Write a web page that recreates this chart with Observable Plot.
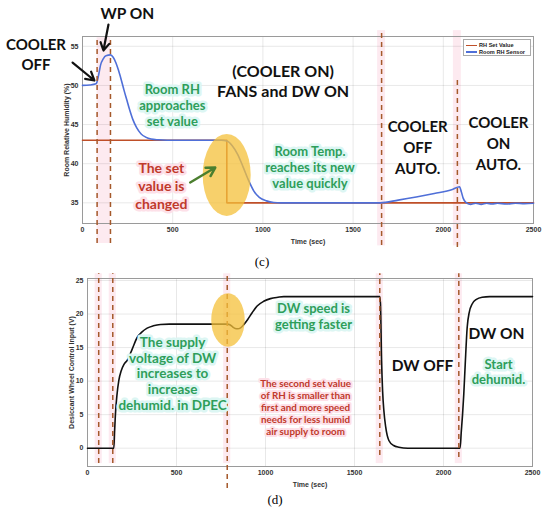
<!DOCTYPE html>
<html><head><meta charset="utf-8">
<script src="https://cdn.jsdelivr.net/npm/d3@7"></script>
<script src="https://cdn.jsdelivr.net/npm/@observablehq/plot@0.6"></script>
<style>
body{margin:0;background:#fff;}
#wrap{position:relative;width:550px;height:513px;overflow:hidden;font-family:"Liberation Sans",Arial,sans-serif;}
#c,#d{position:absolute;left:0;}
#c{top:0}
#d{top:270px}
.cap{position:absolute;font-family:"Liberation Serif","Times New Roman",serif;font-size:13px;transform:translate(-50%,-50%);}
#legend{position:absolute;left:463px;top:39px;width:68px;height:17px;border:1px solid #aaa;background:#fff;font-family:"Liberation Sans",Arial,sans-serif;font-weight:bold;font-size:5.6px;color:#222;box-sizing:border-box;padding:2px 0 0 2px;}
#legend .row{display:flex;align-items:center;height:6.5px;}
#legend .sw{width:11px;height:1.5px;margin-right:2px;}
</style></head>
<body><div id="wrap"><div id="c"></div><div id="d"></div>
<div class="cap" style="left:262px;top:262px">(c)</div>
<div class="cap" style="left:275px;top:500px">(d)</div>
<div id="legend"></div>
</div>
<script>
// ---------- data ----------
const timeRH   = [0, 40, 75, 80, 90, 100, 115, 130, 155, 170, 185, 200, 215, 230, 245, 260, 280, 300, 325, 350, 380, 420, 470, 770, 800, 830, 860, 890, 920, 950, 980, 1020, 1060, 1100, 1650, 1750, 1850, 1950, 2050, 2090, 2100, 2110, 2125, 2150, 2180, 2210, 2240, 2270, 2300, 2350, 2400, 2450, 2500];
const rhSensor = [50.0, 50.05, 50.2, 50.4, 51.4, 52.6, 53.4, 53.8, 53.9, 53.6, 52.9, 51.9, 50.7, 49.4, 48.2, 47.0, 45.6, 44.6, 43.8, 43.4, 43.15, 43.05, 43.0, 43.0, 42.9, 42.3, 41.2, 39.6, 37.9, 36.5, 35.7, 35.25, 35.05, 35.0, 35.0, 35.35, 35.75, 36.2, 36.7, 37.05, 36.4, 35.6, 35.05, 34.8, 34.95, 34.8, 34.95, 34.85, 34.95, 34.85, 34.95, 34.9, 34.95];
const timeSet  = [0, 800, 800, 2500];
const rhSet    = [43, 43, 35, 35];
const timeDW   = [0, 148, 152, 157, 165, 176, 190, 205, 223, 250, 279, 305, 335, 370, 410, 460, 785, 800, 815, 830, 845, 860, 880, 900, 925, 953, 990, 1028, 1070, 1103, 1642, 1646, 1652, 1658, 1665, 1675, 1693, 1720, 1749, 1800, 2093, 2100, 2107, 2114, 2122, 2133, 2145, 2161, 2185, 2217, 2260, 2500];
const dwInput  = [0, 0, 2.5, 5.1, 7.8, 10.1, 11.6, 12.5, 13.1, 14.7, 16.5, 17.3, 17.9, 18.25, 18.45, 18.5, 18.5, 18.4, 18.1, 17.85, 17.8, 17.95, 18.5, 19.2, 20.2, 21.2, 21.9, 22.3, 22.5, 22.6, 22.6, 21.5, 13.1, 8.5, 5.6, 3.2, 1.15, 0.4, 0.15, 0, 0, 2.5, 5.0, 8.1, 12.5, 18.0, 20.3, 21.5, 22.2, 22.5, 22.6, 22.6];
const xTicks   = [0, 500, 1000, 1500, 2000, 2500];
const yTicksC  = [35, 40, 45, 50, 55];
const yTicksD  = [0, 5, 10, 15, 20, 25];
const eventsC  = [81, 155, 1658, 2078];
const eventsD  = [63, 142, 785, 1642, 2086];
const legendLabels = ["RH Set Value", "Room RH Sensor"];

// ---------- styles ----------
const setColor = "#bf4f28", sensorColor = "#4f6fd8", dashColor = "#a5592b";
const green = "#2e9e5a", red = "#c0392b", cyanBg = "#dcf6f3", pinkBg = "#fde0e8", pinkBand = "#fdeaf0";
const annFont = "Lato, 'Open Sans', sans-serif";

const sensorRows = timeRH.map((t, i) => ({t, v: rhSensor[i]}));
const setRows = timeSet.map((t, i) => ({t, v: rhSet[i]}));
const dwRows = timeDW.map((t, i) => ({t, v: dwInput[i]}));

function label(str, x, y, o = {}) {
  return Plot.text([str], Object.assign({x, y, text: d => d, fontFamily: annFont, fontWeight: "bold", fontSize: 15, fill: "#111", lineHeight: 1.3}, o));
}
const axisStyle = {tickSize: 0, fontSize: 7, fontWeight: "bold", fill: "#333", tickFormat: d => String(d)};

// ---------- chart (c) ----------
const chartC = Plot.plot({
  width: 550, height: 270, marginLeft: 82, marginRight: 17, marginTop: 36, marginBottom: 47,
  x: {domain: [0, 2500]}, y: {domain: [32.36, 56.25]},
  style: {fontFamily: "'Liberation Sans', Arial, sans-serif", overflow: "visible", background: "transparent"},
  marks: [
    Plot.rect([0], {x1: eventsC[0], x2: eventsC[1], y1: 29.8, y2: 56.1, fill: pinkBand}),
    Plot.rect(eventsC.slice(2), {x1: d => d - 22, x2: d => d + 22, y1: 29.5, y2: 57, fill: pinkBand}),
    Plot.gridX(xTicks, {stroke: "#000", strokeOpacity: 0.09}),
    Plot.gridY(yTicksC, {stroke: "#000", strokeOpacity: 0.09}),
    Plot.frame({stroke: "#9a9a9a"}),
    Plot.axisX({...axisStyle, ticks: xTicks, tickPadding: 4, label: "Time (sec)", labelAnchor: "center", labelOffset: 20, labelArrow: "none"}),
    Plot.axisY({...axisStyle, ticks: yTicksC, tickPadding: 4, label: "Room Relative Humidity (%)", labelAnchor: "center", labelOffset: 18, labelArrow: "none"}),
    Plot.line(setRows, {x: "t", y: "v", stroke: setColor, strokeWidth: 1.6}),
    Plot.line(sensorRows, {x: "t", y: "v", stroke: sensorColor, strokeWidth: 1.6, curve: "monotone-x"}),
    Plot.ruleX(eventsC.slice(0, 2), {x: d => d, y1: 29.8, y2: 56.1, stroke: dashColor, strokeWidth: 1.5, strokeDasharray: "5,4"}),
    Plot.ruleX([eventsC[2]], {x: d => d, y1: 29.55, y2: 57.0, stroke: dashColor, strokeWidth: 1.5, strokeDasharray: "5,4"}),
    Plot.ruleX([eventsC[3]], {x: d => d, y1: 29.3, y2: 50.9, stroke: dashColor, strokeWidth: 1.5, strokeDasharray: "5,4"}),
    Plot.arrow([0], {x1: 597, y1: 37.6, x2: 736, y2: 39.51, stroke: "#4b7f2f", strokeWidth: 2.5, headLength: 8}),
    Plot.arrow([0], {x1: -55, y1: 52.92, x2: 66, y2: 50.63, stroke: "#111", strokeWidth: 2.2, headLength: 8}),
    Plot.arrow([0], {x1: 144, y1: 57.78, x2: 116, y2: 54.46, stroke: "#111", strokeWidth: 2.2, headLength: 8}),
    label("COOLER\nOFF", -258, 54.07, {fontSize: 15, lineHeight: 1.33}),
    label("WP ON", 249, 59.31, {fontSize: 15.5}),
    label("Room RH\napproaches\nset value", 498, 47.56, {fontSize: 13, lineHeight: 1.23, fill: green, stroke: cyanBg, strokeWidth: 5}),
    label("(COOLER ON)\nFANS and DW ON", 1112, 50.63, {fontSize: 16, lineHeight: 1.25}),
    label("The set\nvalue is\nchanged", 437, 37.22, {fontSize: 14, lineHeight: 1.29, fill: red, stroke: pinkBg, strokeWidth: 5}),
    label("Room Temp.\nreaches its new\nvalue quickly", 1261, 39.64, {fontSize: 13, lineHeight: 1.23, fill: green, stroke: cyanBg, strokeWidth: 5}),
    label("COOLER\nOFF\nAUTO.", 1858, 42.2, {lineHeight: 1.4}),
    label("COOLER\nON\nAUTO.", 2306, 42.71, {lineHeight: 1.4})
  ]
});

// ---------- chart (d) ----------
const chartD = Plot.plot({
  width: 550, height: 243, marginLeft: 87, marginRight: 18, marginTop: 8, marginBottom: 47,
  x: {domain: [0, 2500]}, y: {domain: [-2.73, 25.3]},
  style: {fontFamily: "'Liberation Sans', Arial, sans-serif", overflow: "visible", background: "transparent"},
  marks: [
    Plot.rect(eventsD, {x1: d => d - 20, x2: d => d + 20, y1: -2.3, y2: 26, fill: pinkBand}),
    Plot.gridX(xTicks, {stroke: "#000", strokeOpacity: 0.09}),
    Plot.gridY(yTicksD, {stroke: "#000", strokeOpacity: 0.09}),
    Plot.frame({stroke: "#9a9a9a"}),
    Plot.axisX({...axisStyle, ticks: xTicks, tickPadding: 4, label: "Time (sec)", labelAnchor: "center", labelOffset: 20, labelArrow: "none"}),
    Plot.axisY({...axisStyle, ticks: yTicksD, tickPadding: 4, label: "Desiccant Wheel Control Input (V)", labelAnchor: "center", labelOffset: 18, labelArrow: "none"}),
    Plot.line(dwRows, {x: "t", y: "v", stroke: "#111", strokeWidth: 1.6, curve: "monotone-x"}),
    Plot.ruleX(eventsD.slice(0, 2), {x: d => d, y1: -2.3, y2: 26, stroke: dashColor, strokeWidth: 1.5, strokeDasharray: "5,4"}),
    Plot.ruleX([eventsD[2]], {x: d => d, y1: -6.0, y2: 26, stroke: dashColor, strokeWidth: 1.5, strokeDasharray: "5,4"}),
    Plot.ruleX([eventsD[3]], {x: d => d, y1: -1.1, y2: 26, stroke: dashColor, strokeWidth: 1.5, strokeDasharray: "5,4"}),
    Plot.ruleX([eventsD[4]], {x: d => d, y1: -1.4, y2: 26, stroke: dashColor, strokeWidth: 1.5, strokeDasharray: "5,4"}),
    label("The supply\nvoltage of DW\nincreases to\nincrease\ndehumid. in DPEC", 478, 11.14, {fontSize: 13.5, lineHeight: 1.16, fill: green, stroke: cyanBg, strokeWidth: 5}),
    label("DW speed is\ngetting faster", 1270, 19.75, {fontSize: 13, lineHeight: 1.23, fill: green, stroke: cyanBg, strokeWidth: 5}),
    label("The second set value\nof RH is smaller than\nfirst and more speed\nneeds for less humid\nair supply to room", 1225, 6.07, {fontSize: 9.8, lineHeight: 1.22, fill: red, stroke: pinkBg, strokeWidth: 4}),
    label("DW OFF", 1882, 12.47, {fontSize: 15.5}),
    label("DW ON", 2298, 17.25, {fontSize: 15.5}),
    label("Start\ndehumid.", 2309, 11.4, {fontSize: 13, lineHeight: 1.15, fill: green, stroke: cyanBg, strokeWidth: 5})
  ]
});

// yellow highlight ellipses placed through the charts' own scales
function addEllipse(svg, cx, cy, rx, ry) {
  const sx = svg.scale("x"), sy = svg.scale("y");
  const px = sx.apply(cx), py = sy.apply(cy);
  const prx = Math.abs(sx.apply(cx + rx) - px), pry = Math.abs(sy.apply(cy + ry) - py);
  const firstArrow = svg.querySelector("g[aria-label='arrow']");
  const el = document.createElementNS("http://www.w3.org/2000/svg", "ellipse");
  el.setAttribute("cx", px); el.setAttribute("cy", py);
  el.setAttribute("rx", prx); el.setAttribute("ry", pry);
  el.setAttribute("fill", "#f4c03a"); el.setAttribute("fill-opacity", "0.75");
  if (firstArrow) svg.insertBefore(el, firstArrow);
  else { const txt = svg.querySelector("g[aria-label='text']"); svg.insertBefore(el, txt); }
}
addEllipse(chartC, 802, 38.5, 133, 5.24);
addEllipse(chartD, 792, 19.04, 94, 3.98);

document.getElementById("c").appendChild(chartC);
document.getElementById("d").appendChild(chartD);

// legend
const leg = document.getElementById("legend");
[setColor, sensorColor].forEach((col, i) => {
  const row = document.createElement("div"); row.className = "row";
  const sw = document.createElement("span"); sw.className = "sw"; sw.style.background = col;
  const tx = document.createElement("span"); tx.textContent = legendLabels[i];
  row.appendChild(sw); row.appendChild(tx); leg.appendChild(row);
});
</script></body></html>
